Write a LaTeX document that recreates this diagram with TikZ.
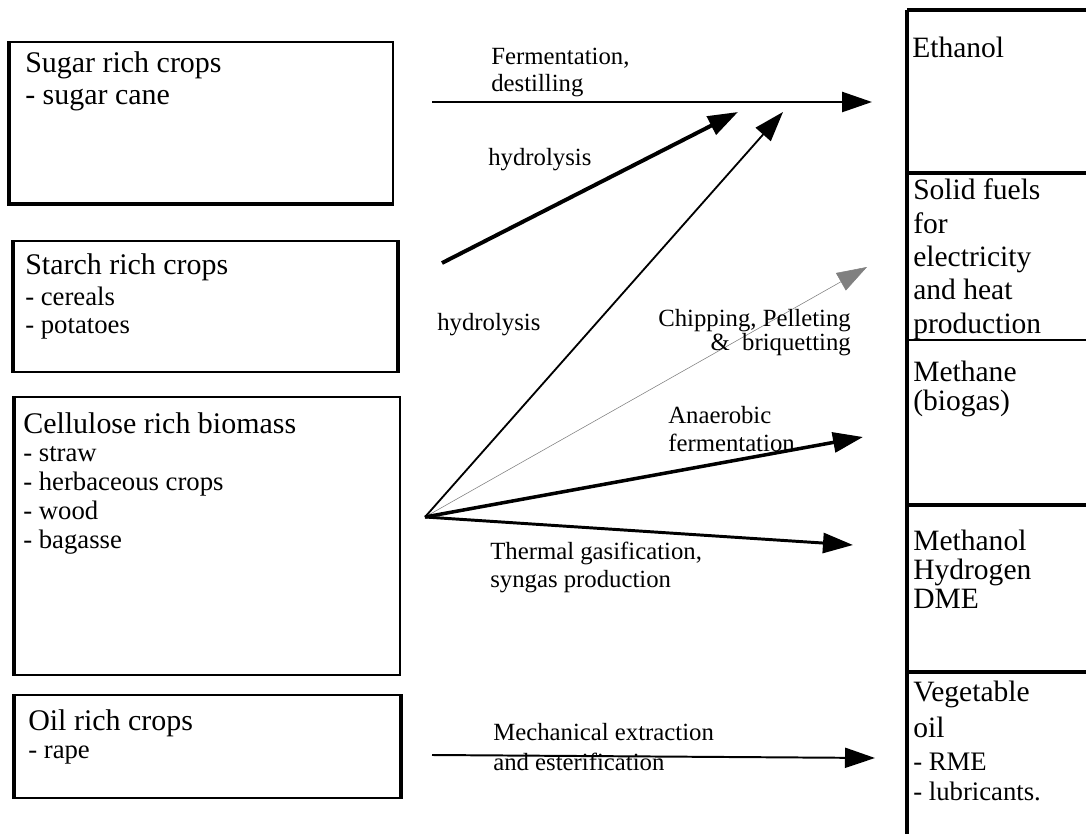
\documentclass[tikz,border=0pt]{standalone}
\usepackage{fontspec}
\setmainfont{Liberation Serif}
\usetikzlibrary{arrows.meta,positioning,calc,fit}

\begin{document}
\begin{tikzpicture}[x=0.025cm, y=-0.025cm, >={Triangle[length=7.5mm, width=5mm]},
  srcbox/.style={draw, line width=1.1pt, inner sep=0pt},
  shade/.style={line width=2.6pt},
  title/.style={anchor=base west, inner sep=0pt, font=\fontsize{21.3pt}{24pt}\selectfont},
  items/.style={anchor=base west, inner sep=0pt, align=left, font=\fontsize{19pt}{20.4pt}\selectfont},
  lbl/.style={anchor=base west, inner sep=0pt, align=left, font=\fontsize{17.6pt}{19.6pt}\selectfont},
  prod/.style={anchor=base west, inner sep=0pt, align=left, font=\fontsize{21pt}{20.6pt}\selectfont},
  cell/.style={line width=2.8pt},
  flow/.style={->, line width=1.6pt}]
  \useasboundingbox (0,0) rectangle (1086,834);

  % raw material boxes
  \node[srcbox, fit={(10,42) (393,203)}] (sugar) {};
  \node[srcbox, fit={(14,241) (397,372)}] (starch) {};
  \node[srcbox, fit={(15,397) (400,675)}] (cellulose) {};
  \node[srcbox, fit={(15,695) (400,798)}] (oil) {};
  \draw[shade] (sugar.north west) -- (sugar.south west) -- (sugar.south east);
  \draw[shade] (starch.north west) -- (starch.south west);
  \draw[shade] (starch.north east) -- (starch.south east);
  \draw[shade] (cellulose.north west) -- (cellulose.south west);
  \draw[shade] (oil.north west) -- (oil.south west);
  \draw[shade] (oil.north east) -- (oil.south east);

  % (multi-line nodes sit on their last baseline)
  \node[title] (sugar-t) at (25,73) {Sugar rich crops};
  \node[title] (sugar-i) at (25,105) {- sugar cane};
  \node[title] (starch-t) at (25,275) {Starch rich crops};
  \node[items, font=\fontsize{19pt}{19.9pt}\selectfont] (starch-i) at (25,333) {- cereals\\- potatoes};
  \node[title] (cellulose-t) at (23,433) {Cellulose rich biomass};
  \node[items] (cellulose-i) at (23,548) {- straw\\- herbaceous crops\\- wood\\- bagasse};
  \node[title] (oil-t) at (28,730) {Oil rich crops};
  \node[items] (oil-i) at (28,758) {- rape};

  % product column
  \draw[cell] (907,10) -- (907,834);
  \draw[cell] (907,10) -- (1086,10);
  \draw[cell] (907,173) -- (1086,173);
  \draw[line width=1pt] (907,340) -- (1086,340);
  \draw[cell] (907,505) -- (1086,505);
  \draw[cell] (907,672) -- (1086,672);

  \node[prod] (ethanol) at (912,58) {Ethanol};
  \node[prod, font=\fontsize{21pt}{23.7pt}\selectfont] (solid) at (913,333) {Solid fuels\\for\\electricity\\and heat\\production};
  \node[prod] (methane) at (913,410) {Methane\\(biogas)};
  \node[prod] (methanol) at (913,608) {Methanol\\Hydrogen\\DME};
  \node[prod, font=\fontsize{21pt}{24.9pt}\selectfont] (vegoil) at (913,737) {Vegetable\\oil};
  \node[items, font=\fontsize{19pt}{21.3pt}\selectfont] (vegoil-i) at (913,800) {- RME\\- lubricants.};

  % connector ends
  \coordinate (hub) at (425,517);
  \coordinate (sugar-out) at (432,102);
  \coordinate (starch-out) at (442,263);
  \coordinate (oil-out) at (432,755);
  \coordinate (ethanol-in) at (872,102);
  \coordinate (ethanol-a) at (738,112);
  \coordinate (ethanol-b) at (783,112);
  \coordinate (solid-in) at (867,267);
  \coordinate (methane-in) at (863,437);
  \coordinate (methanol-in) at (853,545);
  \coordinate (vegoil-in) at (875,758);

  \draw[flow, line width=1.8pt] (sugar-out) -- (ethanol-in);
  \draw[flow, line width=2.8pt] (starch-out) -- (ethanol-a);
  \draw[flow, line width=1.3pt] (hub) -- (ethanol-b);
  \draw[flow, line width=0.4pt, draw=gray] (hub) -- (solid-in);
  \draw[flow, line width=2.5pt] (hub) -- (methane-in);
  \draw[flow, line width=2.1pt] (hub) -- (methanol-in);
  \draw[flow, line width=1.4pt] (oil-out) -- (vegoil-in);

  \node[lbl] (ferm) at (491,92) {Fermentation,\\destilling};
  \node[lbl] (hydro-a) at (488,166) {hydrolysis};
  \node[lbl] (hydro-b) at (437,330) {hydrolysis};
  \node[lbl, align=right, font=\fontsize{17.6pt}{15.6pt}\selectfont] (chip) at (658,350) {Chipping, Pelleting\\\&\ \ briquetting};
  \node[lbl] (anaer) at (668,451) {Anaerobic\\fermentation};
  \node[lbl] (thermal) at (490,587) {Thermal gasification,\\syngas production};
  \node[lbl, font=\fontsize{17.6pt}{21.3pt}\selectfont] (mech) at (493,770) {Mechanical extraction\\and esterification};
\end{tikzpicture}
\end{document}
